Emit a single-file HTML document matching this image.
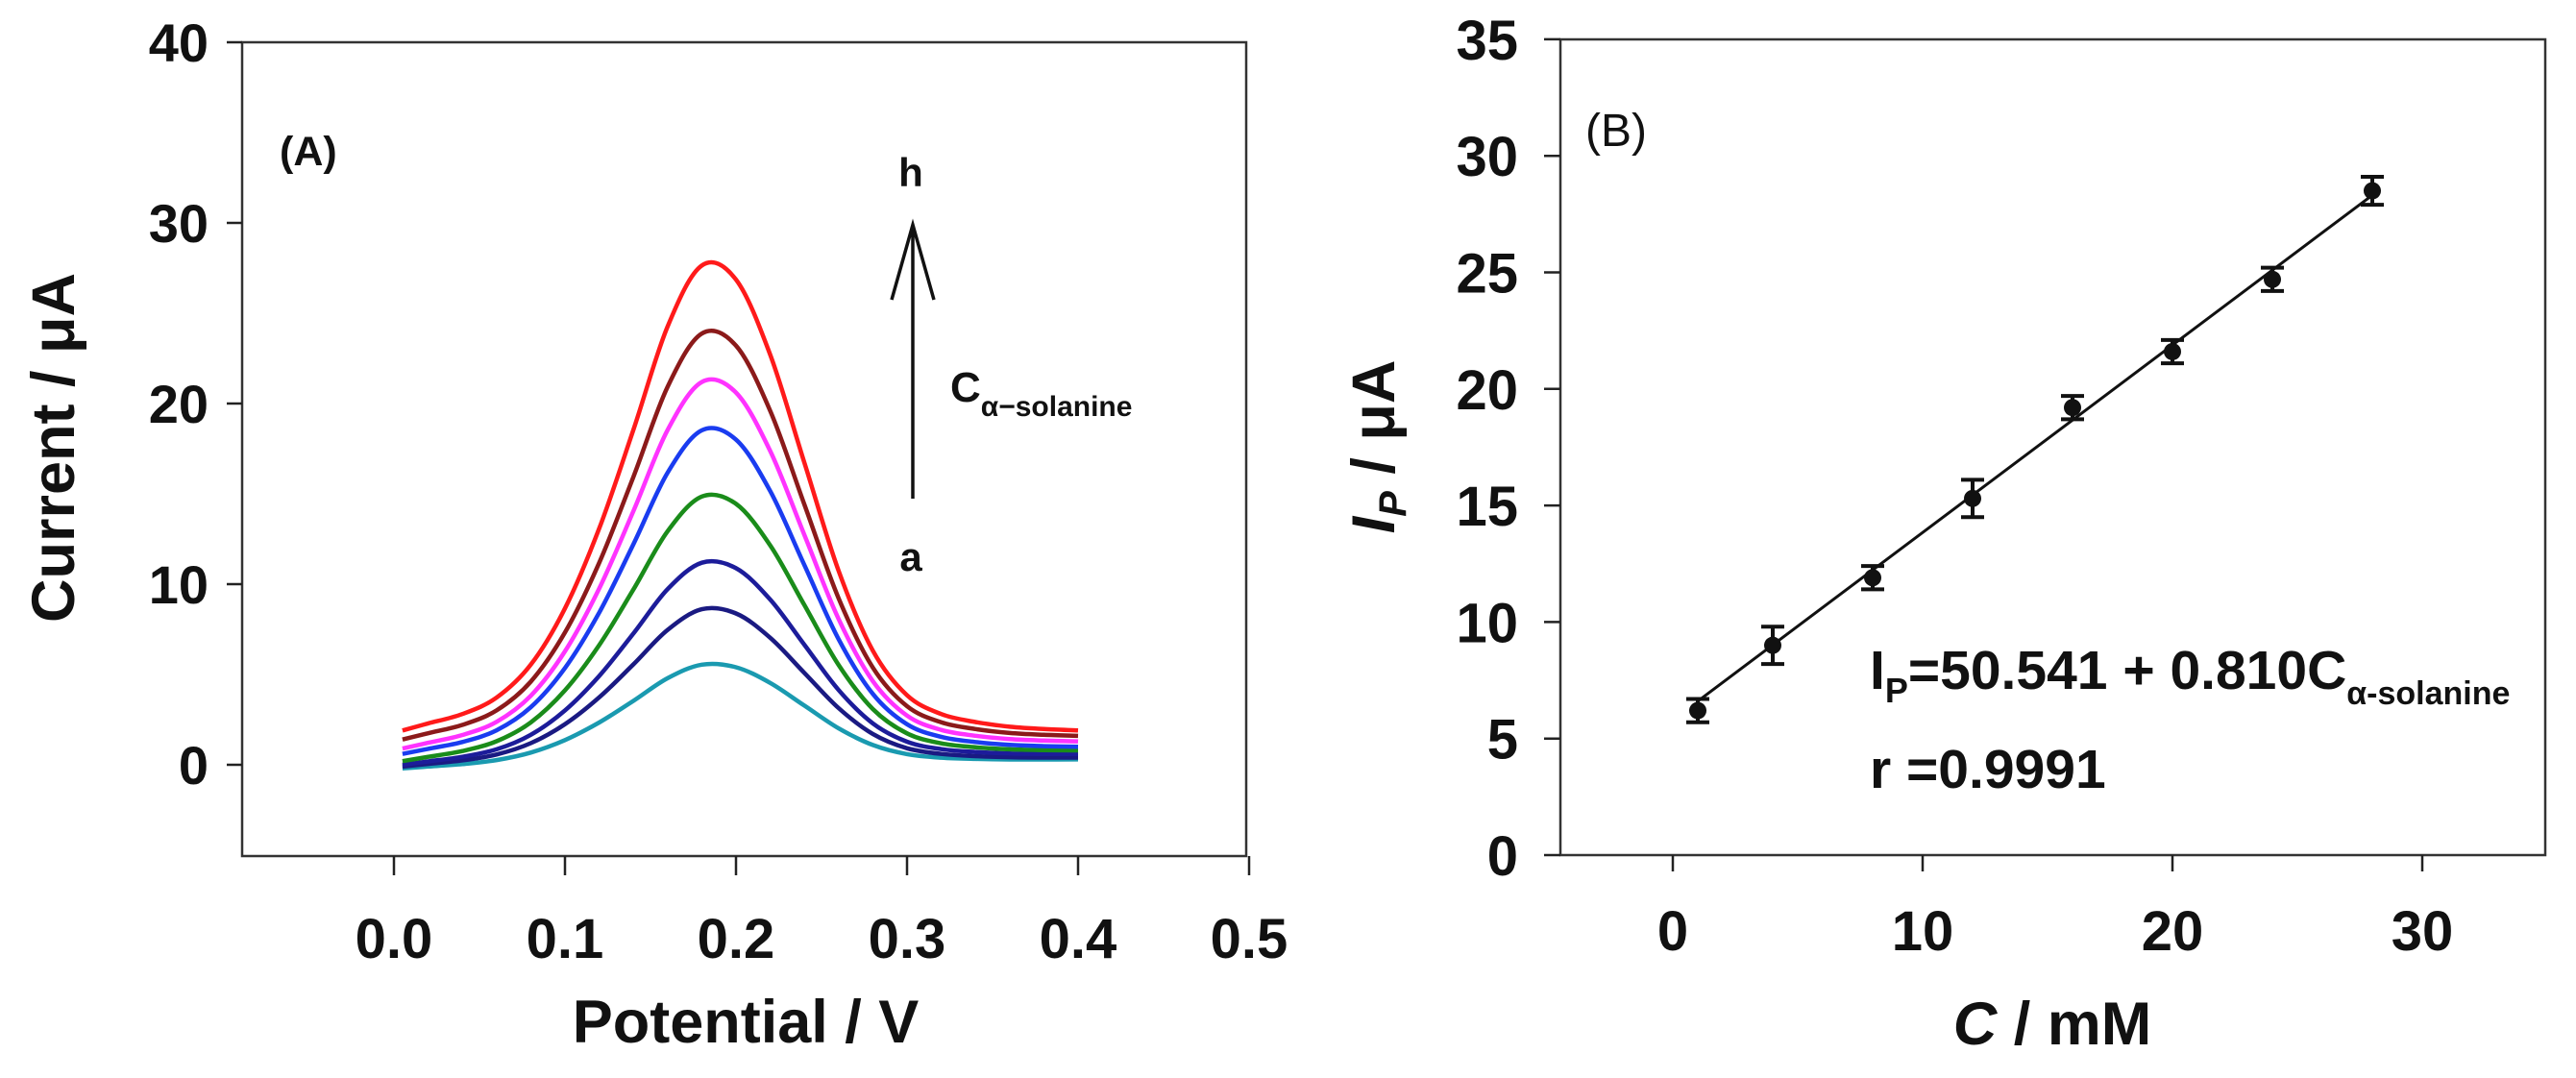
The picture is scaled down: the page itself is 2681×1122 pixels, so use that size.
<!DOCTYPE html>
<html><head><meta charset="utf-8">
<style>
html,body{margin:0;padding:0;background:#fff;}
svg{display:block;font-family:"Liberation Sans",Arial,sans-serif;}
</style></head>
<body>
<svg id="fig" width="2681" height="1122" viewBox="0 0 2681 1122">
  <rect width="2681" height="1122" fill="#fff"/>
</svg>
<script>
// ===== Panel A data =====
const potentials = [0.005,0.02,0.04,0.06,0.08,0.10,0.12,0.14,0.16,0.18,0.20,0.22,0.24,0.26,0.28,0.30,0.32,0.34,0.36,0.38,0.40];
const peakShape = [0,0.015,0.035,0.07,0.14,0.26,0.43,0.64,0.86,0.99,0.96,0.80,0.57,0.34,0.17,0.075,0.035,0.018,0.008,0.003,0];
const curveLabels = ['a','b','c','d','e','f','g','h'];
const peakCurrents = [5.6,8.7,11.3,15.0,18.7,21.4,24.1,27.9];
const startCurrents = [-0.2,-0.1,0.0,0.2,0.6,0.9,1.4,1.9];
const endCurrents = [0.3,0.4,0.6,0.8,1.0,1.3,1.6,1.9];
const curveColors = ['#1a9ab0','#1a1a82','#1c1c9a','#1a8c1a','#1a3cf0','#ff33ff','#8b1a1a','#ff1a1a'];
const xTicksA = [0.0,0.1,0.2,0.3,0.4,0.5];
const xTickLabelsA = ['0.0','0.1','0.2','0.3','0.4','0.5'];
const yTicksA = [0,10,20,30,40];
// ===== Panel B data =====
const concentrations = [1,4,8,12,16,20,24,28];
const peakCurrentsB = [6.2,9.0,11.9,15.3,19.2,21.6,24.7,28.5];
const errorsB = [0.5,0.8,0.5,0.8,0.5,0.5,0.5,0.6];
const fitSlope = [0.804];
const fitIntercept = [5.8];
const xTicksB = [0,10,20,30];
const yTicksB = [0,5,10,15,20,25,30,35];

const NS='http://www.w3.org/2000/svg';
const svg=document.getElementById('fig');
function mk(tag,attrs,parent){const e=document.createElementNS(NS,tag);for(const k in attrs)e.setAttribute(k,attrs[k]);(parent||svg).appendChild(e);return e;}

const xA=p=>410+1780*p;
const yA=v=>796-18.8*v;
const xB=c=>1741+26.0*c;
const yB=v=>890-24.26*v;

// ---------- Panel A ----------
const gA=mk('g',{});


const boxA=mk('rect',{x:252,y:44,width:1045,height:847,fill:'none',stroke:'#333',"stroke-width":2.5},gA);


yTicksA.forEach(v=>{
  const t=mk('line',{x1:236,x2:252,y1:yA(v),y2:yA(v),stroke:'#222',"stroke-width":2.5},gA);
  
  
  const l=mk('text',{x:217,y:yA(v)+20,"text-anchor":'end',"font-size":56,"font-weight":'bold',fill:'#111'},gA);
  l.textContent=String(v);
  
  
});
xTicksA.forEach((p,i)=>{
  const t=mk('line',{x1:xA(p),x2:xA(p),y1:891,y2:911,stroke:'#222',"stroke-width":2.5},gA);
  
  
  const l=mk('text',{x:xA(p),y:997,"text-anchor":'middle',"font-size":58,"font-weight":'bold',fill:'#111'},gA);
  l.textContent=xTickLabelsA[i];
  
  
});
function smoothPath(pts){
  let d='M'+pts[0][0].toFixed(1)+','+pts[0][1].toFixed(1);
  for(let i=0;i<pts.length-1;i++){
    const p0=pts[i-1]||pts[i],p1=pts[i],p2=pts[i+1],p3=pts[i+2]||p2;
    const c1=[p1[0]+(p2[0]-p0[0])/6,p1[1]+(p2[1]-p0[1])/6];
    const c2=[p2[0]-(p3[0]-p1[0])/6,p2[1]-(p3[1]-p1[1])/6];
    d+=' C'+c1[0].toFixed(1)+','+c1[1].toFixed(1)+' '+c2[0].toFixed(1)+','+c2[1].toFixed(1)+' '+p2[0].toFixed(1)+','+p2[1].toFixed(1);
  }
  return d;
}
const pMax=potentials[potentials.length-1], pMin=potentials[0];
curveLabels.forEach((lab,k)=>{
  const base=p=>startCurrents[k]+(endCurrents[k]-startCurrents[k])*(p-pMin)/(pMax-pMin);
  const amp=peakCurrents[k]-base(0.183);
  const pts=potentials.map((p,i)=>[xA(p),yA(base(p)+amp*peakShape[i])]);
  const path=mk('path',{d:smoothPath(pts),fill:'none',stroke:curveColors[k],"stroke-width":4.5,"stroke-linejoin":'round'},gA);
  
  
});
let t;
t=mk('text',{x:291,y:172,"font-size":43,"font-weight":'bold',fill:'#111'},gA);t.textContent='(A)';


t=mk('text',{x:948,y:194,"text-anchor":'middle',"font-size":42,"font-weight":'bold',fill:'#111'},gA);t.textContent='h';


t=mk('text',{x:948,y:594,"text-anchor":'middle',"font-size":42,"font-weight":'bold',fill:'#111'},gA);t.textContent='a';


const arr=mk('path',{d:'M950,519 L950,234 M928,312 L950,234 L972,312',fill:'none',stroke:'#111',"stroke-width":3.5},gA);


t=mk('text',{x:989,y:418,"font-size":44,"font-weight":'bold',fill:'#111'},gA);
t.innerHTML='C<tspan font-size="30" dy="15">α−solanine</tspan>';


t=mk('text',{x:776,y:1085,"text-anchor":'middle',"font-size":63,"font-weight":'bold',fill:'#111'},gA);t.textContent='Potential / V';


t=mk('text',{x:0,y:0,"text-anchor":'middle',"font-size":63,"font-weight":'bold',fill:'#111',transform:'translate(77,466) rotate(-90)'},gA);t.textContent='Current / μA';



// ---------- Panel B ----------
const gB=mk('g',{});


const boxB=mk('rect',{x:1624,y:41,width:1025,height:849,fill:'none',stroke:'#333',"stroke-width":2.5},gB);


yTicksB.forEach(v=>{
  const tk=mk('line',{x1:1607,x2:1624,y1:yB(v),y2:yB(v),stroke:'#222',"stroke-width":2.5},gB);
  
  
  const l=mk('text',{x:1580,y:yB(v)+21,"text-anchor":'end',"font-size":58,"font-weight":'bold',fill:'#111'},gB);
  l.textContent=String(v);
  
  
});
xTicksB.forEach(c=>{
  const tk=mk('line',{x1:xB(c),x2:xB(c),y1:890,y2:907,stroke:'#222',"stroke-width":2.5},gB);
  
  
  const l=mk('text',{x:xB(c),y:989,"text-anchor":'middle',"font-size":58,"font-weight":'bold',fill:'#111'},gB);
  l.textContent=String(c);
  
  
});
const c0=concentrations[0],c1=concentrations[concentrations.length-1];
const fit=mk('line',{x1:xB(c0),y1:yB(fitIntercept[0]+fitSlope[0]*c0),x2:xB(c1),y2:yB(fitIntercept[0]+fitSlope[0]*c1),stroke:'#111',"stroke-width":3},gB);


concentrations.forEach((c,i)=>{
  const x=xB(c),y=yB(peakCurrentsB[i]),yt=yB(peakCurrentsB[i]+errorsB[i]),yb=yB(peakCurrentsB[i]-errorsB[i]);
  const eb=mk('path',{d:`M${x},${yt} L${x},${yb} M${x-12},${yt} L${x+12},${yt} M${x-12},${yb} L${x+12},${yb}`,fill:'none',stroke:'#111',"stroke-width":4},gB);
  
  
  const pt=mk('circle',{cx:x,cy:y,r:9,fill:'#111'},gB);
  
  
});
t=mk('text',{x:1650,y:152,"font-size":48,fill:'#111'},gB);t.textContent='(B)';


t=mk('text',{x:1946,y:717,"font-size":57,"font-weight":'bold',fill:'#111'},gB);
t.innerHTML='I<tspan font-size="36" dy="14">P</tspan><tspan dy="-14">=50.541 + 0.810C</tspan><tspan font-size="34" dy="16">α-solanine</tspan>';


t=mk('text',{x:1946,y:820,"font-size":57,"font-weight":'bold',fill:'#111'},gB);t.textContent='r =0.9991';


t=mk('text',{x:2136,y:1087,"text-anchor":'middle',"font-size":63,"font-weight":'bold',fill:'#111'},gB);
t.innerHTML='<tspan font-style="italic">C</tspan> / mM';


t=mk('text',{x:0,y:0,"text-anchor":'middle',"font-size":63,"font-weight":'bold',fill:'#111',transform:'translate(1451,465) rotate(-90)'},gB);
t.innerHTML='<tspan font-style="italic">I</tspan><tspan font-style="italic" font-size="40" dy="12">P</tspan><tspan dy="-12"> / μA</tspan>';


</script>
</body></html>
